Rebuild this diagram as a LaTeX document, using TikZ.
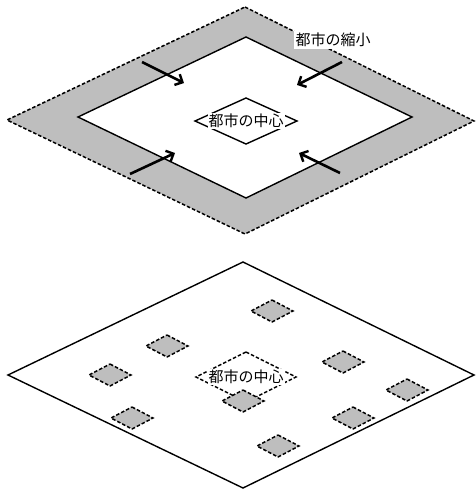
\documentclass[tikz,border=0pt]{standalone}
\usepackage{fontspec}
\newfontfamily\cjk{Noto Sans CJK JP}
\usetikzlibrary{arrows.meta}
\definecolor{ring}{RGB}{190,190,190}
\tikzset{
  dashline/.style={line width=1.5pt, dash pattern=on 3.5pt off 2pt},
  edge/.style={line width=1.4pt},
  shrink/.style={line width=2.6pt, -{Straight Barb[length=6pt,width=12pt,line width=2.4pt]}},
  label/.style={font=\cjk\fontsize{15pt}{15pt}\selectfont, fill=white, inner sep=1pt},
  pics/lot/.style={code={
    \draw[dashline, fill=ring] (0,-11) -- (21,0) -- (0,11) -- (-21,0) -- cycle;
  }}
}
\begin{document}
\begin{tikzpicture}[x=1pt,y=-1pt]
\useasboundingbox (0,0) rectangle (475,491);

% ---------- upper plan: shrinking city ----------
% grey ring between the former boundary and the new one
\draw[dashline, fill=ring] (245,7) -- (474,121) -- (245,234) -- (7,120) -- cycle;
\draw[edge, fill=white] (246,37) -- (412,117) -- (246,198) -- (78,117) -- cycle;

% city centre marker
\draw[edge] (246,98) -- (297,121) -- (246,144) -- (195,121) -- cycle;
\node[label] (coreA) at (246,121) {都市の中心};

% label for the shrinking ring
\node[label, inner sep=2pt] (shrinkA) at (333,40) {都市の縮小};

% inward arrows
\coordinate (tlA) at (142,62);  \coordinate (tlB) at (184,83);
\coordinate (trA) at (342,62);  \coordinate (trB) at (297,85);
\coordinate (blA) at (130,174); \coordinate (blB) at (175,153);
\coordinate (brA) at (340,173); \coordinate (brB) at (299,153);
\draw[shrink] (tlA) -- (tlB);
\draw[shrink] (trA) -- (trB);
\draw[shrink] (blA) -- (blB);
\draw[shrink] (brA) -- (brB);

% ---------- lower plan: scattered centres ----------
\draw[edge] (243,262) -- (474,375) -- (243,488) -- (8,375) -- cycle;

% dashed former centre
\draw[dashline] (246,352) -- (296,377) -- (246,402) -- (196,377) -- cycle;
\node[label] (coreB) at (246,377) {都市の中心};

% scattered small centres
\pic at (272,311) {lot};
\pic at (167,346) {lot};
\pic at (110,375) {lot};
\pic at (343,362) {lot};
\pic at (407,390) {lot};
\pic at (243,401) {lot};
\pic at (132,418) {lot};
\pic at (353,418) {lot};
\pic at (278,446) {lot};
\end{tikzpicture}
\end{document}
